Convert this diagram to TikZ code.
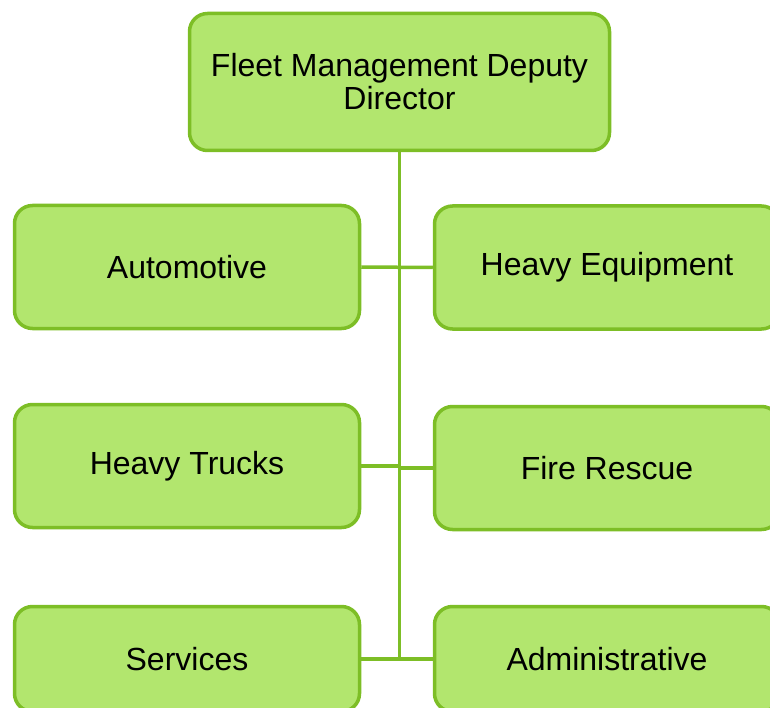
\documentclass[tikz,border=0pt]{standalone}
\usepackage{fontspec}
\setmainfont{Liberation Sans}
\usepackage{tikz}
\usetikzlibrary{calc,positioning}
\definecolor{boxfill}{HTML}{B2E66E}
\definecolor{boxline}{HTML}{7DBE26}
\tikzset{
  unit/.style={draw=boxline, fill=boxfill, line width=3.5pt, rounded corners=18pt,
    minimum width=345pt, minimum height=123pt, inner sep=0pt, align=center,
    font=\fontsize{32}{33}\selectfont},
  link/.style={draw=boxline, line width=3.5pt}
}

\begin{document}
\begin{tikzpicture}[x=1pt,y=-1pt]
\useasboundingbox (0,0) rectangle (770,708);
\node[unit, minimum width=420pt, minimum height=137pt](head) at (399.5,82){Fleet Management Deputy\\Director};
\node[unit](auto) at (187,267){Automotive};
\node[unit](heq) at (607,267.5){Heavy Equipment};
\node[unit](trucks) at (187,466){Heavy Trucks};
\node[unit](fire) at (607,468){Fire Rescue};
\node[unit, minimum height=105pt](serv) at (187,659){Services};
\node[unit, minimum height=105pt](admin) at (607,659){Administrative};
\coordinate (trunk) at (head.south |- serv.east);
\draw[link] (head.south) -- (trunk);
\draw[link] (auto.east) -- (heq.west);
\draw[link] (trucks.east) -- (trucks.east -| trunk);
\draw[link] (fire.west) -- (fire.west -| trunk);
\draw[link] (serv.east) -- (admin.west);
\end{tikzpicture}
\end{document}
